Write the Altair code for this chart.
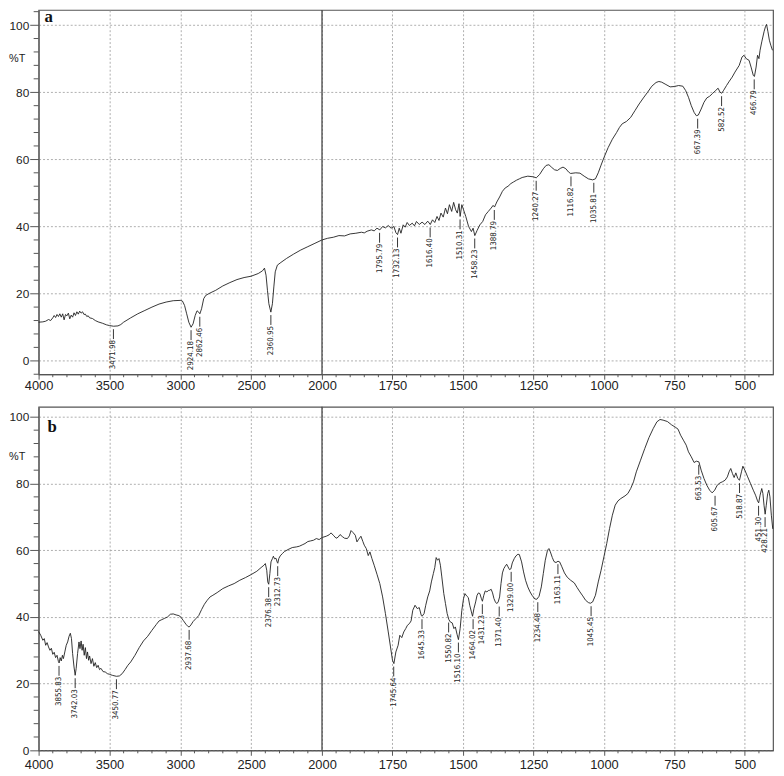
import altair as alt
import pandas as pd

# ---------------- data ----------------
A_WN = [4000, 3970, 3950, 3930, 3915, 3900, 3890, 3880, 3870, 3860, 3850, 3840, 3830, 3820, 3810, 3800,
        3790, 3780, 3770, 3760, 3750, 3740, 3730, 3720, 3710, 3700, 3690, 3680, 3670, 3660, 3650, 3640,
        3620, 3600, 3580, 3550, 3520, 3500, 3471, 3440, 3420, 3400, 3350, 3300, 3250, 3200, 3150, 3100,
        3050, 3000, 2985, 2970, 2955, 2940, 2924, 2910, 2895, 2882, 2870, 2862, 2850, 2835, 2820, 2790,
        2750, 2700, 2650, 2600, 2550, 2500, 2450, 2420, 2406, 2395, 2385, 2375, 2361, 2350, 2340, 2330,
        2315, 2290, 2250, 2200, 2150, 2100, 2050, 2000,
        1980, 1960, 1940, 1920, 1900, 1880, 1860, 1850, 1840, 1825, 1815, 1805, 1795, 1785, 1775, 1765,
        1755, 1745, 1738, 1732, 1726, 1720, 1712, 1705, 1698, 1690, 1680, 1672, 1665, 1655, 1645, 1635,
        1625, 1616, 1608, 1600, 1592, 1585, 1578, 1570, 1562, 1555, 1548, 1540, 1533, 1526, 1520, 1514,
        1510, 1504, 1498, 1490, 1480, 1470, 1464, 1458, 1450, 1440, 1430, 1420, 1410, 1400, 1393, 1388,
        1380, 1370, 1360, 1350, 1340, 1330, 1320, 1310, 1300, 1290, 1270, 1250, 1240, 1228, 1215, 1205,
        1195, 1185, 1175, 1165, 1155, 1145, 1135, 1125, 1118, 1100, 1085, 1070, 1055, 1040, 1030, 1020,
        1010, 1000, 985, 970, 955, 945, 935, 920, 905, 890, 875, 860, 845, 830, 815, 805,
        795, 780, 765, 750, 735, 720, 710, 700, 690, 680, 672, 665, 655, 645, 635, 625,
        615, 605, 595, 588, 582, 575, 565, 555, 545, 535, 520, 510, 503, 495, 485, 478,
        470, 466, 460, 455, 450, 446, 440, 432, 427, 423, 418, 413, 408, 402]
A_T = [11.5, 11.6, 11.8, 12.3, 12.0, 12.8, 13.5, 12.9, 13.8, 13.2, 14.0, 13.0, 14.0, 12.2, 13.8, 13.4,
       14.2, 12.5, 13.6, 13.0, 14.3, 13.5, 14.6, 13.9, 14.8, 14.2, 14.6, 13.8, 13.9, 13.2, 13.4, 12.8,
       12.6, 12.0, 11.6, 11.2, 10.7, 10.5, 10.3, 10.4, 10.8, 11.5, 12.8, 14.0, 15.0, 16.0, 16.9, 17.5,
       17.9, 18.0, 17.8, 16.5, 14.0, 11.5, 10.0, 11.0, 13.5, 14.9, 14.5, 14.0, 15.5, 18.5, 19.5, 20.2,
       21.0, 22.3, 23.3, 24.2, 24.8, 25.2, 26.0, 26.8, 27.6, 25.5, 21.0, 17.0, 14.5, 17.0, 22.0, 26.5,
       28.5, 29.3, 30.5, 31.8, 33.0, 34.0, 35.0, 36.0,
       36.5, 36.8, 37.3, 37.2, 37.8, 38.0, 38.3, 38.1, 38.6, 39.0, 38.7, 39.5, 39.0, 40.0, 39.6, 40.3,
       39.5, 40.0, 38.2, 37.6, 39.5, 38.0, 40.5, 39.8, 41.2, 40.3, 41.0, 40.2, 41.5, 40.6, 41.3, 40.6,
       41.6, 40.6, 42.0, 41.2, 43.0, 41.8, 44.0, 42.8, 45.5, 43.8, 46.5, 44.5, 47.2, 45.0, 44.0, 46.8,
       43.0, 46.5, 45.0, 43.0, 40.0, 38.5, 39.5, 37.3, 38.8, 40.5, 41.5, 43.5, 44.5, 45.5, 46.3, 45.8,
       47.3, 48.8, 50.5, 51.5, 52.0, 52.8, 53.3, 53.8, 54.2, 54.6, 55.0, 54.8, 54.5, 55.5, 57.2, 58.2,
       58.4, 57.6, 56.9, 56.7, 57.3, 57.7, 57.2, 56.2, 55.8, 56.0, 55.9, 55.0, 54.2, 53.9, 54.2, 56.0,
       58.3, 60.5, 63.5, 66.0, 68.0, 69.5, 70.6, 71.3, 72.5, 74.5, 76.5, 78.3, 80.0, 81.8, 82.9, 83.2,
       83.0, 82.3, 81.6, 81.7, 82.0, 81.8, 80.5, 78.5, 76.0, 74.0, 73.0, 73.2, 75.0, 77.0, 78.3, 78.8,
       79.6, 80.4, 81.2, 80.0, 79.7, 80.6, 82.0, 83.3, 84.5, 86.0, 88.0, 90.5, 91.0, 90.0, 89.5, 87.5,
       85.0, 84.7, 87.5, 91.0, 90.0, 92.5, 95.0, 98.0, 99.5, 100.2, 98.0, 95.5, 94.0, 92.5]

B_WN = [4000, 3985, 3970, 3960, 3950, 3940, 3930, 3920, 3910, 3900, 3890, 3880, 3870, 3860, 3855, 3848,
        3840, 3832, 3825, 3815, 3805, 3795, 3785, 3776, 3768, 3760, 3750, 3742, 3735, 3725, 3715, 3708,
        3700, 3693, 3686, 3678, 3670, 3662, 3655, 3647, 3640, 3630, 3620, 3610, 3600, 3590, 3580, 3570,
        3560, 3545, 3530, 3515, 3500, 3480, 3451, 3430, 3410, 3390, 3370, 3350, 3320, 3290, 3260, 3230,
        3200, 3170, 3150, 3130, 3110, 3090, 3070, 3050, 3030, 3010, 2995, 2980, 2960, 2945, 2937, 2925,
        2910, 2890, 2870, 2850, 2830, 2810, 2790, 2770, 2740, 2700, 2660, 2620, 2580, 2540, 2500, 2460,
        2430, 2410, 2400, 2390, 2383, 2376, 2368, 2360, 2350, 2343, 2335, 2325, 2316, 2312, 2305, 2295,
        2280, 2265, 2240, 2210, 2180, 2160, 2140, 2120, 2100, 2080, 2060, 2040, 2020, 2000,
        1985, 1975, 1968, 1960, 1950, 1943, 1936, 1928, 1920, 1910, 1903, 1897, 1890, 1882, 1876, 1870,
        1862, 1855, 1850, 1843, 1836, 1830, 1823, 1815, 1805, 1795, 1785, 1775, 1765, 1757, 1750, 1745,
        1738, 1730, 1724, 1717, 1710, 1703, 1697, 1690, 1684, 1678, 1670, 1662, 1655, 1648, 1645, 1638,
        1632, 1625, 1618, 1612, 1605, 1600, 1595, 1590, 1585, 1580, 1575, 1568, 1562, 1556, 1550, 1545,
        1538, 1532, 1527, 1521, 1516, 1510, 1504, 1498, 1493, 1487, 1481, 1476, 1470, 1466, 1461, 1455,
        1450, 1445, 1440, 1435, 1431, 1426, 1421, 1415, 1410, 1405, 1400, 1395, 1390, 1385, 1380, 1375,
        1370, 1365, 1360, 1355, 1350, 1345, 1340, 1335, 1330, 1325, 1318, 1312, 1305, 1300, 1292, 1285,
        1278, 1270, 1262, 1255, 1245, 1238, 1230, 1222, 1215, 1208, 1200, 1195, 1190, 1183, 1177, 1170,
        1163, 1157, 1150, 1140, 1130, 1118, 1105, 1095, 1085, 1075, 1065, 1055, 1048, 1040, 1030, 1020,
        1010, 1000, 990, 980, 970, 960, 950, 940, 925, 915, 905, 895, 885, 870, 855, 840,
        825, 812, 801, 790, 775, 760, 745, 737, 728, 718, 708, 700, 690, 680, 672, 663,
        655, 645, 635, 625, 616, 607, 598, 588, 580, 570, 562, 556, 550, 544, 538, 532,
        525, 519, 512, 507, 500, 490, 480, 470, 462, 455, 451, 446, 440, 436, 432, 428,
        424, 419, 415, 411, 406, 401]
B_T = [35.6, 34.5, 33.0, 33.5, 31.5, 32.3, 31.0, 30.0, 30.6, 28.8, 29.4, 27.8, 28.5, 26.6, 26.2, 27.8,
       26.8, 28.5, 27.5, 29.5, 31.5, 32.5, 34.2, 35.1, 33.5, 29.0, 25.0, 22.5, 24.5, 29.0, 32.5, 30.5,
       32.8, 30.0, 31.8, 28.5, 30.8, 27.5, 29.5, 27.0, 28.3, 26.0, 27.5, 25.2, 26.3, 24.8, 25.5, 24.2,
       24.6, 23.6, 23.5, 23.0, 22.8, 22.5, 22.2, 22.3, 23.0, 24.2, 25.5, 26.5, 28.5, 30.8, 32.8, 34.2,
       36.0, 37.7, 38.8, 39.2, 39.6, 40.0, 40.8, 40.9, 40.6, 40.4, 39.9, 39.0, 37.8, 37.1, 37.0, 37.6,
       38.6, 39.5, 40.4, 42.2, 43.8, 45.0, 46.0, 46.5, 47.3, 48.5, 49.3, 50.0, 51.0, 51.8, 52.7, 53.7,
       54.8, 55.5, 56.0, 54.0, 50.5, 49.8, 53.0, 56.5, 57.5, 58.2, 57.4, 57.6, 56.4, 56.1, 57.5, 58.3,
       59.0, 59.6, 60.2, 60.8, 61.0, 61.2, 61.6, 62.0, 62.6, 62.8, 63.0, 63.5, 63.2, 63.8,
       64.2, 64.6, 65.2, 64.5, 63.6, 63.9, 64.7, 64.1, 63.6, 63.5, 64.3, 65.9, 65.3, 64.5, 62.5, 63.3,
       64.2, 62.6, 61.5, 60.5, 58.4, 59.5, 57.5, 55.5, 52.8, 50.0, 46.0, 41.0, 35.5, 31.0, 27.0, 26.0,
       29.5, 31.5, 34.5, 33.8, 35.5, 36.5, 37.5, 38.0, 38.8, 42.0, 43.5, 42.5, 42.8, 40.5, 40.2, 41.0,
       43.5, 46.0, 47.8, 50.5, 53.0, 54.8, 57.8, 57.0, 57.5, 55.5, 52.0, 47.0, 44.0, 41.0, 39.2, 38.5,
       38.2, 36.5, 37.0, 34.8, 33.2, 36.5, 42.0, 45.5, 47.0, 46.3, 45.8, 43.5, 41.5, 40.2, 42.5, 44.5,
       46.5, 47.2, 47.0, 45.6, 44.7, 46.5, 47.8, 47.5, 47.9, 48.0, 48.3, 47.2, 45.5, 44.5, 44.0, 44.5,
       46.0, 50.0, 53.2, 54.5, 55.2, 55.8, 55.0, 54.2, 54.4, 56.2, 57.5, 58.3, 58.8, 58.7, 56.5, 53.5,
       51.0, 49.0, 47.5, 46.5, 45.4, 45.3, 46.2, 49.0, 53.0, 57.0, 60.0, 60.5, 59.5, 57.8, 56.6, 56.3,
       56.7, 56.5, 55.2, 53.2, 51.9, 51.0, 50.2, 48.8, 47.5, 46.3, 45.0, 44.3, 44.1, 44.5, 46.5, 50.5,
       54.0, 58.0, 62.0, 66.5, 70.5, 73.5, 74.8, 75.5, 76.3, 77.0, 78.5, 80.5, 83.5, 87.0, 90.5, 93.8,
       96.5, 98.5, 99.2, 99.0, 98.6, 97.6, 96.8, 96.3, 94.5, 93.0, 91.5, 89.5, 88.0, 86.3, 86.7, 86.5,
       84.0, 81.5, 79.5, 78.0, 77.2, 78.0, 79.5, 80.2, 80.5, 81.0, 82.0, 83.5, 84.5, 83.0, 81.8, 83.2,
       81.5, 81.0, 83.5, 85.2, 84.0, 82.0, 80.0, 78.0, 76.5, 74.8, 74.2, 76.5, 78.5, 77.0, 73.5, 70.8,
       73.5, 77.0, 78.0, 76.0, 70.5, 66.4]

A_PEAK_LBL = ["3471.98", "2924.18", "2862.46", "2360.95", "1795.79", "1732.13", "1616.40", "1510.31",
              "1458.23", "1388.79", "1240.27", "1116.82", "1035.81", "667.39", "582.52", "466.79"]
A_PEAK_T = [10.3, 10.0, 14.0, 14.5, 39.0, 37.6, 40.6, 43.0, 37.3, 45.8, 54.5, 55.8, 53.9, 73.0, 79.7, 84.7]

B_PEAK_LBL = ["3855.83", "3742.03", "3450.77", "2937.68", "2376.38", "2312.73", "1745.64", "1645.33",
              "1550.82", "1516.10", "1464.02", "1431.23", "1371.40", "1329.00", "1234.48", "1163.11",
              "1045.45", "663.53", "605.67", "518.87", "451.30", "428.21"]
B_PEAK_T = [26.2, 22.5, 22.2, 37.0, 49.8, 56.1, 26.0, 40.2, 39.2, 33.2, 40.2, 44.7, 44.0, 54.4, 45.3, 56.7,
            44.1, 86.5, 77.2, 81.0, 74.2, 70.8]

X_MAJOR = [4000, 3500, 3000, 2500, 2000, 1750, 1500, 1250, 1000, 750, 500]
Y_MAJOR = [0, 20, 40, 60, 80, 100]

# ---------------- layout / style ----------------
W = 744
BREAK = round(W * 289 / 749, 1)
HA, HB = 369, 348
YDOM_A = [-4, 104.5]
YDOM_B = [0, 103]
LINE = "#1e1e1e"
FRAME = "#555555"
GRID = "#9a9a9a"
LBL_FONT = "Liberation Sans Narrow, DejaVu Sans Condensed, Arial Narrow, sans-serif"

xscale = alt.Scale(domain=[4000, 2000, 400], range=[0, BREAK, W], zero=False, nice=False)

x_minor = [w for w in range(3900, 2000, -100) if w % 500] + [w for w in range(1950, 400, -50) if w % 250]


def make_axes(xpad):
    xax = alt.Axis(values=X_MAJOR, format="d", title=None, tickSize=5, labelPadding=xpad,
                   labelFontSize=13, labelFont="Liberation Sans", labelColor="#222",
                   labelFlush=False, labelOverlap=False,
                   grid=True, gridDash=[2, 2], gridColor=GRID, gridWidth=0.8,
                   domainColor=FRAME, tickColor=FRAME)
    yax = alt.Axis(values=Y_MAJOR, title=None, tickSize=9, labelPadding=1,
                   labelFontSize=12, labelFont="Liberation Sans", labelColor="#222",
                   labelOverlap=False,
                   grid=True, gridDash=[2, 2], gridColor=GRID, gridWidth=0.8,
                   domainColor=FRAME, tickColor=FRAME)
    return xax, yax


def panel(wn, t, labels, pk_t, ydom, H, letter, letter_xy, pct_t, xpad):
    ppu = H / (ydom[1] - ydom[0])
    yscale = alt.Scale(domain=ydom, zero=False, nice=False)
    xax, yax = make_axes(xpad)

    def X(field):
        return alt.X(field, scale=xscale, axis=xax)

    def Y(field):
        return alt.Y(field, scale=yscale, axis=yax)

    curve = pd.DataFrame({"wn": wn, "t": t})
    pk_wn = [float(s) for s in labels]
    peaks = pd.DataFrame({
        "wn": pk_wn, "lbl": labels,
        "t": [v - 3 / ppu for v in pk_t],
        "t2": [v - 13 / ppu for v in pk_t],
        "tt": [v - 14 / ppu for v in pk_t],
    })
    y_minor = [v for v in range(-4, 105, 4) if v % 20 and ydom[0] <= v <= ydom[1]]

    line = alt.Chart(curve).mark_line(color=LINE, strokeWidth=0.9).encode(
        x=X("wn:Q"), y=Y("t:Q"), order="wn:Q")
    brk = alt.Chart(pd.DataFrame({"wn": [2000]})).mark_rule(color="#444", strokeWidth=1.3).encode(
        x=X("wn:Q"), y=alt.value(0), y2=alt.value(H))
    xm = alt.Chart(pd.DataFrame({"wn": x_minor})).mark_rule(color=FRAME, strokeWidth=1).encode(
        x=X("wn:Q"), y=alt.value(H), y2=alt.value(H + 3))
    ym = alt.Chart(pd.DataFrame({"t": y_minor})).mark_rule(color=FRAME, strokeWidth=1).encode(
        y=Y("t:Q"), x=alt.value(0), x2=alt.value(-5))
    rules = alt.Chart(peaks).mark_rule(color=LINE, strokeWidth=0.9).encode(
        x=X("wn:Q"), y=Y("t:Q"), y2="t2:Q")
    texts = alt.Chart(peaks).mark_text(angle=270, align="right", baseline="middle", fontSize=8,
                                       font=LBL_FONT, color=LINE).encode(
        x=X("wn:Q"), y=Y("tt:Q"), text="lbl:N")
    let = alt.Chart(pd.DataFrame({"s": [letter]})).mark_text(
        font="Liberation Serif", fontWeight="bold", fontSize=17, align="left", baseline="alphabetic",
        color="#111").encode(x=alt.value(letter_xy[0]), y=alt.value(letter_xy[1]), text="s:N")
    pct = alt.Chart(pd.DataFrame({"s": ["%T"], "t": [pct_t]})).mark_text(
        font="Liberation Sans", fontSize=11, align="left", baseline="middle", color="#222").encode(
        x=alt.value(-30), y=Y("t:Q"), text="s:N")

    return alt.layer(line, brk, xm, ym, rules, texts, let, pct).properties(width=W, height=H)


pa = panel(A_WN, A_T, A_PEAK_LBL, A_PEAK_T, YDOM_A, HA, "a", (6, 12), 90, 0)
pb = panel(B_WN, B_T, B_PEAK_LBL, B_PEAK_T, YDOM_B, HB, "b", (9, 26), 88, 3)

chart = alt.vconcat(pa, pb, spacing=12).properties(
    padding={"left": 0, "top": -6, "right": 0, "bottom": 0},
    background="white",
).configure_view(stroke=FRAME, strokeWidth=1.2)

chart.save("out.html", embed_options={"renderer": "svg", "actions": False})
